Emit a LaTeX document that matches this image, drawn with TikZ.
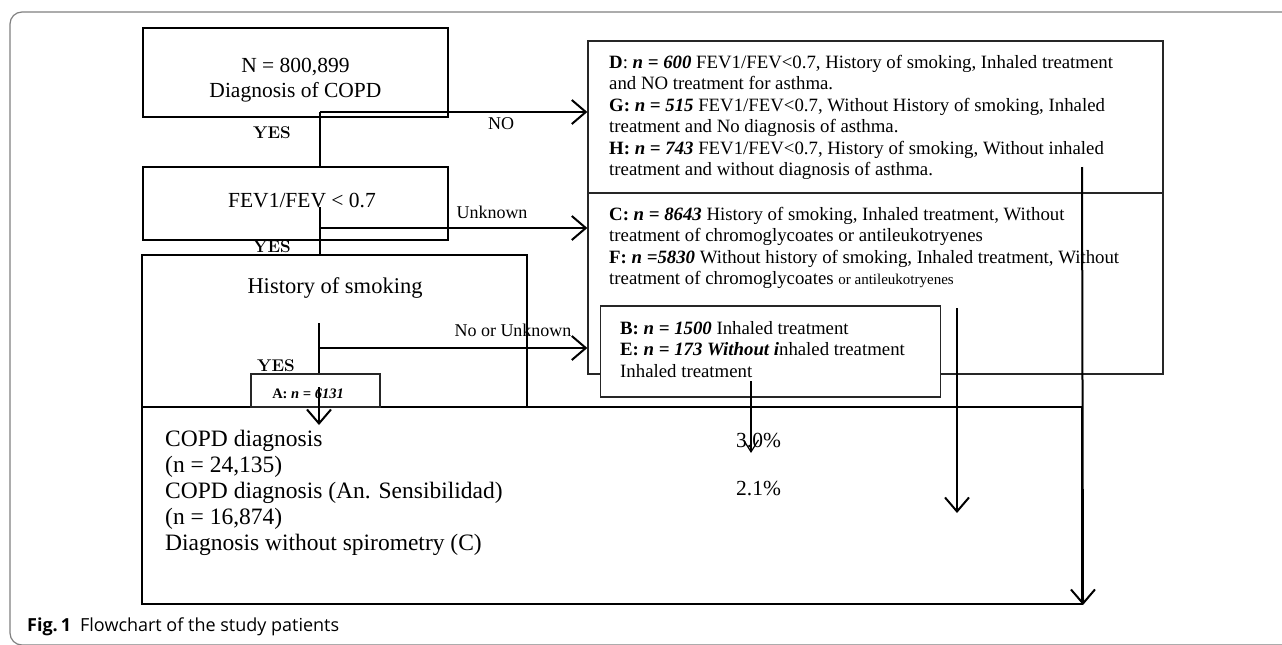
\documentclass[tikz,border=0pt]{standalone}
\usepackage{fontspec}
\newfontfamily\boxfont{Liberation Serif}
\newfontfamily\capfont{Open Sans}
\usetikzlibrary{arrows.meta}

\begin{document}
\begin{tikzpicture}[x=1pt,y=-1pt,
    box/.style={draw,line width=2pt,fill=white,inner sep=0pt},
    listbox/.style={draw,black!85,line width=1.3pt,fill=white,inner sep=0pt},
    big/.style={font=\boxfont\fontsize{21.5}{25}\selectfont,align=center,inner sep=0pt},
    list/.style={font=\boxfont\fontsize{18.8}{21.4}\selectfont,align=left,anchor=north west,inner sep=0pt},
    yes/.style={font=\bfseries\fontsize{17}{17}\selectfont,inner sep=0pt},
    lbl/.style={font=\boxfont\fontsize{18}{18}\selectfont,inner sep=0pt},
    flow/.style={line width=2pt},
    tip/.style={-{Straight Barb[length=14pt,width=24pt,line width=2pt]}},
    smalltip/.style={-{Straight Barb[length=12pt,width=15pt,line width=1.2pt]}}]
  \useasboundingbox (0,0) rectangle (1282,645);
  % frame and caption
  \draw[black!50,line width=1.2pt,rounded corners=12pt] (1300,12) -- (10,12) -- (10,645) -- (1300,645);
  \node[font=\capfont\fontsize{18}{18}\selectfont,anchor=west,inner sep=0pt] (caption) at (27,627)
    {\textbf{Fig.\,1}\hspace{9pt}Flowchart of the study patients};

  % left column
  \node[box,minimum width=305pt,minimum height=89pt] (copd) at (295.5,72.5) {};
  \node[big] (copdtext) at (295.5,80) {N = 800,899\\Diagnosis of COPD};
  \node[box,minimum width=305pt,minimum height=73pt] (fev) at (295.5,203.5) {};
  \node[big] (fevtext) at (302,201) {FEV1/FEV < 0.7};
  \node[box,minimum width=385pt,minimum height=152pt] (smoking) at (334.5,331) {};
  \node[big,font=\boxfont\fontsize{22.5}{25}\selectfont] (smoketext) at (335,288) {History of smoking};
  \node[box,minimum width=940pt,minimum height=197pt] (result) at (612,505.5) {};

  % right column
  \node[listbox,minimum width=575pt,minimum height=152pt] (dgh) at (875.5,117) {};
  \node[listbox,minimum width=575pt,minimum height=181pt] (cf) at (875.5,283.5) {};
  \node[list] (dghtext) at (609,55) {%
    \textbf{D}: \textbf{\textit{n = 600}} FEV1/FEV<0.7, History of smoking, Inhaled treatment\\
    and NO treatment for asthma.\\
    \textbf{G:} \textbf{\textit{n = 515}} FEV1/FEV<0.7, Without History of smoking, Inhaled\\
    treatment and No diagnosis of asthma.\\
    \textbf{H:} \textbf{\textit{n = 743}} FEV1/FEV<0.7, History of smoking, Without inhaled\\
    treatment and without diagnosis of asthma.};
  \node[list] (cftext) at (609,207) {%
    \textbf{C:} \textbf{\textit{n = 8643}} History of smoking, Inhaled treatment, Without\\
    treatment of chromoglycoates or antileukotryenes\\
    \textbf{F:} \textbf{\textit{n =5830}} Without history of smoking, Inhaled treatment, Without\\
    treatment of chromoglycoates {\fontsize{15}{15}\selectfont or antileukotryenes}};
  \node[listbox,line width=1.5pt,minimum width=340pt,minimum height=91pt] (be) at (770.5,351.5) {};
  \node[list] (betext) at (620,321) {%
    \textbf{B:} \textbf{\textit{n = 1500}} Inhaled treatment\\
    \textbf{E:} \textbf{\textit{n = 173 Without i}}nhaled treatment\\
    Inhaled treatment};

  % result text
  \node[list,font=\boxfont\fontsize{23.5}{26}\selectfont] (resulttext) at (165,430) {%
    COPD diagnosis\\
    (n = 24,135)\\
    COPD diagnosis (An. Sensibilidad)\\
    (n = 16,874)\\
    Diagnosis without spirometry (C)};
  \node[big,anchor=west] (pctone) at (736,440) {3.0\%};
  \node[big,anchor=west] (pcttwo) at (736,488) {2.1\%};

  % branches
  \coordinate (copdstem) at (320,112);
  \coordinate (fevstem) at (320,207);
  \coordinate (fevsplit) at (320,228);
  \coordinate (smokestem) at (319,323);
  \coordinate (smokesplit) at (319,348);
  \draw[flow] (copdstem) -- (copdstem |- fev.north);
  \draw[flow,tip] (copdstem) -- (copdstem -| dgh.west);
  \draw[flow] (fevstem) -- (fevstem |- smoking.north);
  \draw[flow,tip] (fevsplit) -- (fevsplit -| cf.west);
  \draw[flow,tip] (smokesplit) -- (smokesplit -| cf.west);
  \node[yes] (yesone) at (272,133) {YES};
  \node[yes] (yestwo) at (272,247) {YES};
  \node[yes] (yesthree) at (276,366) {YES};
  \node[lbl] (nolbl) at (501,124) {NO};
  \node[lbl] (unknownlbl) at (492,212) {Unknown};
  \node[lbl] (nounknownlbl) at (513,330) {No or Unknown};

  % A box
  \node[listbox,line width=1.2pt,minimum width=129pt,minimum height=33pt] (abox) at (315.5,390.5) {};
  \draw[flow] (smokestem) -- (smokestem |- abox.north);
  \node[font=\boxfont\fontsize{14.5}{14.5}\selectfont,inner sep=0pt] (atext) at (308,394)
    {\textbf{A:} \textbf{\textit{n = 6131}}};
  \coordinate (astem) at (319,387);
  \draw[flow,tip] (astem) -- (319,425);

  % long arrows
  \coordinate (bestem) at (751,381);
  \coordinate (cfstem) at (957,308);
  \coordinate (dghstem) at (1082,167);
  \draw[line width=1.2pt,smalltip] (bestem) -- (751,453);
  \draw[flow,tip] (cfstem) -- (957,513);
  \draw[flow,tip] (dghstem) -- (result.south east);
\end{tikzpicture}
\end{document}
